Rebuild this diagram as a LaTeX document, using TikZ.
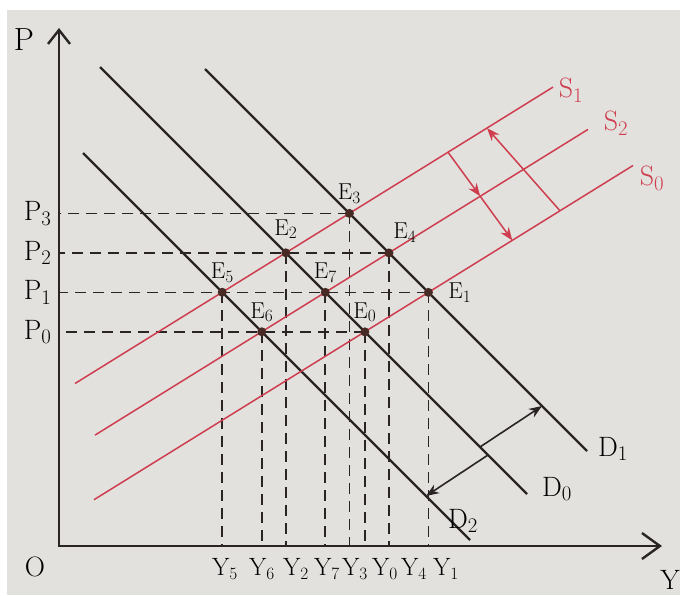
\documentclass[tikz,border=0pt]{standalone}
\usepackage{xcolor}
\usetikzlibrary{arrows.meta,positioning}
\definecolor{supplyred}{RGB}{206,62,78}
\definecolor{inkblack}{RGB}{42,36,36}
\definecolor{dotbrown}{RGB}{72,42,36}
\definecolor{paper}{RGB}{226,225,222}

\begin{document}
\begin{tikzpicture}[
    x=1pt, y=-1pt,
    font=\fontsize{28}{32}\selectfont,
    dot/.style={circle, fill=#1, inner sep=0pt, minimum size=9pt},
    dot/.default=dotbrown,
    demand/.style={inkblack, line width=2.2pt},
    supply/.style={supplyred, line width=1.5pt},
    guide/.style={inkblack, line width=1.8pt, dash pattern=on 11pt off 7pt},
    elabel/.style={font=\fontsize{23}{26}\selectfont, inner sep=1pt},
    ylabel/.style={font=\fontsize{25}{29}\selectfont},
    shift arrow/.style={-{Stealth[length=13pt,width=10pt]}}
]
    \useasboundingbox (0,0) rectangle (680,595);
    \fill[paper] (7,10) rectangle (680,595);

    % Coordinates
    \coordinate (O)     at (59,546);
    \coordinate (p_top) at (59,28);
    \coordinate (y_end) at (662,546);

    \coordinate (d2_top) at (83,153);
    \coordinate (d2_bot) at (470,540);
    \coordinate (d0_top) at (100,67);
    \coordinate (d0_bot) at (527,494);
    \coordinate (d1_top) at (205,69);
    \coordinate (d1_bot) at (587,451);

    \coordinate (s1_lo) at (75,383.5);
    \coordinate (s1_hi) at (553,87.1);
    \coordinate (s2_lo) at (95,435.1);
    \coordinate (s2_hi) at (588,129.4);
    \coordinate (s0_lo) at (94,499.7);
    \coordinate (s0_hi) at (633,165.5);

    % Equilibria
    \coordinate (eq3) at (intersection of d1_top--d1_bot and s1_lo--s1_hi);
    \coordinate (eq2) at (intersection of d0_top--d0_bot and s1_lo--s1_hi);
    \coordinate (eq5) at (intersection of d2_top--d2_bot and s1_lo--s1_hi);
    \coordinate (eq4) at (intersection of d1_top--d1_bot and s2_lo--s2_hi);
    \coordinate (eq7) at (intersection of d0_top--d0_bot and s2_lo--s2_hi);
    \coordinate (eq6) at (intersection of d2_top--d2_bot and s2_lo--s2_hi);
    \coordinate (eq1) at (intersection of d1_top--d1_bot and s0_lo--s0_hi);
    \coordinate (eq0) at (intersection of d0_top--d0_bot and s0_lo--s0_hi);

    % Price levels on the axis
    \coordinate (p3) at (eq3 -| O);
    \coordinate (p2) at (eq4 -| O);
    \coordinate (p1) at (eq1 -| O);
    \coordinate (p0) at (eq0 -| O);

    % Dashed guides
    \draw[guide] (eq3) -- (p3);
    \draw[guide] (eq4) -- (p2);
    \draw[guide] (eq1) -- (p1);
    \draw[guide] (eq0) -- (p0);
    \foreach \n in {0,...,7}
        \draw[guide] (eq\n) -- (eq\n |- O);

    % Axes
    \draw[inkblack, line width=2.4pt,
        {Straight Barb[length=14pt,width=22pt]}-{Straight Barb[length=18pt,width=26pt]}]
        (p_top) -- (O) -- (y_end);

    % Demand curves
    \draw[demand] (d2_top) -- (d2_bot);
    \draw[demand] (d0_top) -- (d0_bot);
    \draw[demand] (d1_top) -- (d1_bot);

    % Supply curves
    \draw[supply] (s1_lo) -- (s1_hi);
    \draw[supply] (s2_lo) -- (s2_hi);
    \draw[supply] (s0_lo) -- (s0_hi);

    % Shifts of supply
    \coordinate (sa) at (448,152.2);
    \coordinate (sb) at (480.2,196.3);
    \coordinate (sc) at (512.3,240.4);
    \coordinate (sd) at (560,210.8);
    \coordinate (se) at (487,128.1);
    \draw[supply, shift arrow] (sa) -- (sb);
    \draw[supply, shift arrow] (sb) -- (sc);
    \draw[supply, shift arrow] (sd) -- (se);

    % Shifts of demand
    \coordinate (da) at (480,447);
    \coordinate (db) at (542,406);
    \coordinate (dc) at (488,455);
    \coordinate (dd) at (426,496);
    \draw[inkblack, line width=1.6pt, shift arrow] (da) -- (db);
    \draw[inkblack, line width=1.6pt, shift arrow] (dc) -- (dd);

    % Nodes & Labels
    \foreach \n in {0,...,7}
        \node[dot] (e\n) at (eq\n) {};

    \node[elabel, above=4pt of e3] (e3_lab) {E$_3$};
    \node[elabel, above=8pt of e2] (e2_lab) {E$_2$};
    \node[elabel, above right=6pt and 0pt of e4] (e4_lab) {E$_4$};
    \node[elabel, above=4pt of e5] (e5_lab) {E$_5$};
    \node[elabel, above=4pt of e7] (e7_lab) {E$_7$};
    \node[elabel, above=4pt of e6] (e6_lab) {E$_6$};
    \node[elabel, above=4pt of e0] (e0_lab) {E$_0$};
    \node[elabel, right=14pt of e1] (e1_lab) {E$_1$};

    \node[left=4pt of p3] (p3_lab) {P$_3$};
    \node[left=4pt of p2] (p2_lab) {P$_2$};
    \node[left=4pt of p1] (p1_lab) {P$_1$};
    \node[left=4pt of p0] (p0_lab) {P$_0$};

    \foreach \n/\x in {5/225,6/262,2/296,7/327,3/355,0/385,4/414,1/446}
        \node[ylabel] (y\n_lab) at (\x,569) {Y$_\n$};

    \node[font=\fontsize{32}{36}\selectfont] (p_lab) at (24,40) {P};
    \node (o_lab) at (35,567) {O};
    \node (y_lab) at (670,580) {Y};

    \node[supplyred] (s1_lab) at (571,90)  {S$_1$};
    \node[supplyred] (s2_lab) at (616,123) {S$_2$};
    \node[supplyred] (s0_lab) at (652,178) {S$_0$};
    \node (d1_lab) at (613,449) {D$_1$};
    \node (d0_lab) at (557,489) {D$_0$};
    \node (d2_lab) at (463,521) {D$_2$};

\end{tikzpicture}
\end{document}
